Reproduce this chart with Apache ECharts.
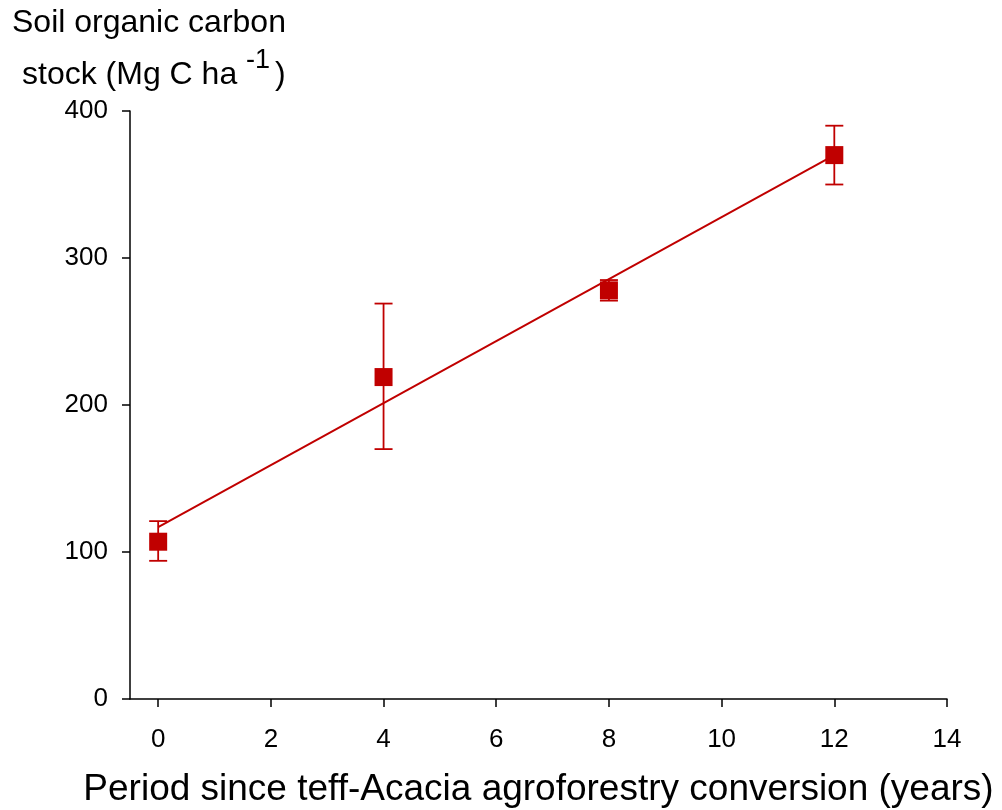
<!DOCTYPE html>
<html><head><meta charset="utf-8">
<script src="https://cdn.jsdelivr.net/npm/echarts@6/dist/echarts.min.js"></script>
<style>html,body{margin:0;padding:0;background:#fff}#c{width:1002px;height:810px}</style>
</head><body><div id="c"></div>
<script>
const years = [0, 4, 8, 12];
const socMean = [107, 219, 278, 370];
const socLow = [94, 170, 271, 350];
const socHigh = [121, 269, 285, 390];
const fitLine = [[0, 117], [12, 370]];
const xTicks = [0, 2, 4, 6, 8, 10, 12, 14];
const yTicks = [0, 100, 200, 300, 400];

const RED = '#c00000';
const FONT = '"Liberation Sans", Arial, sans-serif';

const chart = echarts.init(document.getElementById('c'));
chart.setOption({
  animation: false,
  grid: {left: 130, right: 55, top: 111, bottom: 111, containLabel: false, outerBoundsMode: 'none'},
  xAxis: {
    type: 'value', min: -0.5, max: 14,
    splitLine: {show: false},
    axisLine: {lineStyle: {color: '#000', width: 1.5}},
    axisTick: {show: true, length: 8, inside: false, customValues: xTicks, lineStyle: {color: '#000', width: 1.5}},
    axisLabel: {customValues: xTicks, color: '#000', fontSize: 26, fontFamily: FONT, margin: 28},
    name: 'Period since teff-Acacia agroforestry conversion (years)',
    nameLocation: 'middle', nameGap: 72,
    nameTextStyle: {color: '#000', fontSize: 37, fontFamily: FONT}
  },
  yAxis: {
    type: 'value', min: 0, max: 400, interval: 100,
    splitLine: {show: false},
    axisLine: {show: true, onZero: false, lineStyle: {color: '#000', width: 1.5}},
    axisTick: {show: true, length: 8, lineStyle: {color: '#000', width: 1.5}},
    axisLabel: {color: '#000', fontSize: 26, fontFamily: FONT, margin: 22}
  },
  graphic: [
    {type: 'text', left: 12, top: 7, style: {text: 'Soil organic carbon', fontSize: 32, fontFamily: FONT, fill: '#000'}},
    {type: 'text', left: 22, top: 47, style: {
      text: '{a|stock (Mg C ha }{s|-1}{a|)}',
      rich: {
        a: {fontSize: 32, fontFamily: FONT, color: '#000', verticalAlign: 'bottom', lineHeight: 44},
        s: {fontSize: 27, fontFamily: FONT, color: '#000', verticalAlign: 'top', lineHeight: 44, padding: [0, 5, 0, 0]}
      }
    }}
  ],
  series: [
    {
      type: 'line', data: fitLine, symbol: 'none',
      lineStyle: {color: RED, width: 2}, z: 2
    },
    {
      type: 'custom', z: 3,
      data: years.map((x, i) => [x, socLow[i], socHigh[i]]),
      renderItem: function (params, api) {
        const lo = api.coord([api.value(0), api.value(1)]);
        const hi = api.coord([api.value(0), api.value(2)]);
        const hw = 9;
        const st = {stroke: RED, lineWidth: 1.8};
        return {type: 'group', children: [
          {type: 'line', shape: {x1: lo[0], y1: lo[1], x2: hi[0], y2: hi[1]}, style: st},
          {type: 'line', shape: {x1: lo[0] - hw, y1: lo[1], x2: lo[0] + hw, y2: lo[1]}, style: st},
          {type: 'line', shape: {x1: hi[0] - hw, y1: hi[1], x2: hi[0] + hw, y2: hi[1]}, style: st}
        ]};
      }
    },
    {
      type: 'scatter', z: 4,
      data: years.map((x, i) => [x, socMean[i]]),
      symbol: 'rect', symbolSize: 18,
      itemStyle: {color: RED, opacity: 1}
    }
  ]
});
</script>
</body></html>
